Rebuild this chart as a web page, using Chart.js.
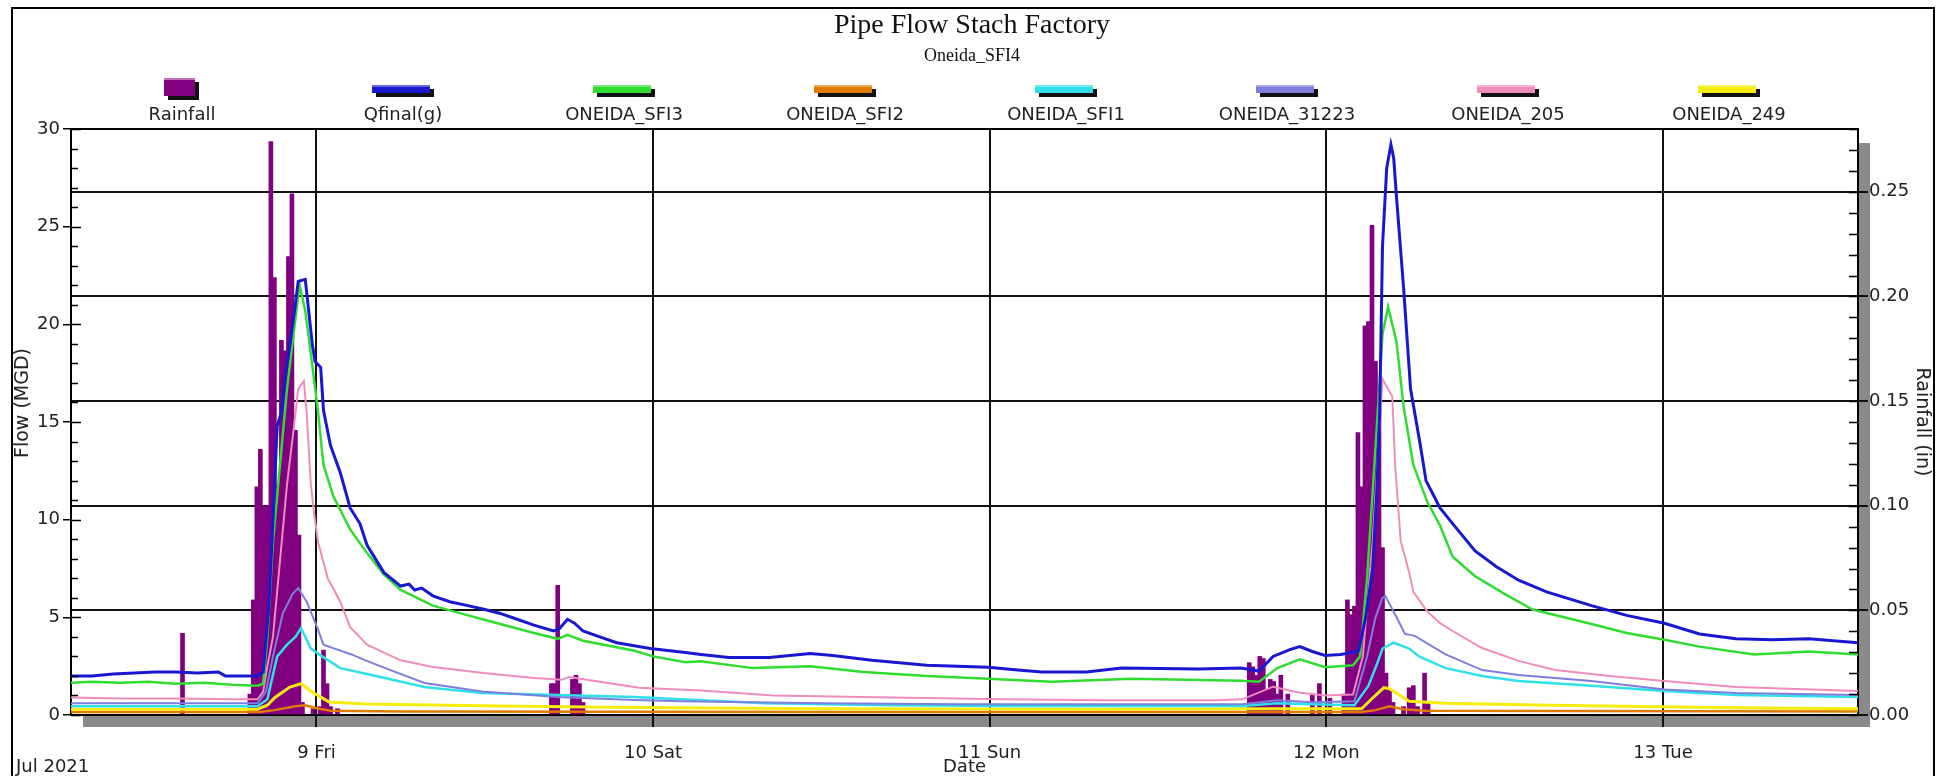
<!DOCTYPE html>
<html>
<head>
<meta charset="utf-8">
<title>Pipe Flow Stach Factory</title>
<script src="https://cdn.jsdelivr.net/npm/chart.js@4.4.1/dist/chart.umd.min.js"></script>
<style>
  html, body { margin: 0; padding: 0; background: #fff; }
  #wrap { width: 1946px; height: 776px; position: relative; }
</style>
</head>
<body>
<div id="wrap"><canvas id="chart"></canvas></div>
<script>
// ---- text ----
const TITLE = 'Pipe Flow Stach Factory';
const SUBTITLE = 'Oneida_SFI4';
const MONTH_LABEL = 'Jul 2021';
const X_TITLE = 'Date';
const Y_TITLE = 'Flow (MGD)';
const Y2_TITLE = 'Rainfall (in)';

// ---- time axis (hours counted from Jul 8 00:00) ----
const X_MIN = 6.5;
const X_MAX = 133.9;
const DAY_TICKS = [24, 48, 72, 96, 120];
const DAY_LABELS = ['9 Fri', '10 Sat', '11 Sun', '12 Mon', '13 Tue'];

// ---- rainfall (in) ----
const RAIN_HOURS = [14.45, 19.25, 19.5, 19.75, 20.0, 20.25, 20.5, 20.75, 21.0, 21.25, 21.5, 21.75, 22.0, 22.25, 22.5, 22.75, 23.0, 23.75, 24.25, 24.5, 24.75, 25.0, 25.5,
  40.75, 41.0, 41.2, 42.25, 42.5, 42.75, 43.0,
  90.5, 90.75, 91.0, 91.25, 91.5, 91.75, 92.0, 92.25, 92.5, 92.75, 93.25, 95.0, 95.5, 96.25,
  97.25, 97.5, 97.75, 98.0, 98.25, 98.5, 98.75, 99.0, 99.25, 99.5, 99.75, 100.0, 100.25, 100.5, 100.75, 101.5, 101.9, 102.2, 102.5, 103.0, 103.25];
const RAIN_IN = [0.039, 0.010, 0.055, 0.109, 0.127, 0.100, 0.100, 0.274, 0.209, 0.110, 0.179, 0.174, 0.219, 0.249, 0.136, 0.086, 0.006, 0.003, 0.004, 0.031, 0.015, 0.004, 0.003,
  0.015, 0.015, 0.062, 0.017, 0.019, 0.015, 0.006,
  0.025, 0.023, 0.019, 0.028, 0.027, 0.012, 0.017, 0.016, 0.010, 0.019, 0.010, 0.010, 0.015, 0.008,
  0.010, 0.055, 0.048, 0.052, 0.135, 0.109, 0.186, 0.188, 0.234, 0.169, 0.147, 0.080, 0.020, 0.012, 0.006, 0.004, 0.013, 0.014, 0.004, 0.020, 0.006];

// ---- Qfinal(g) (MGD) ----
const QFINAL_HOURS = [6.5, 8, 9.5, 11, 12.5, 14, 15.5, 17, 17.5, 19.8, 20.2, 20.6, 20.9, 21.2, 21.5, 21.8, 22.1, 22.4, 22.7, 23.2, 23.4, 23.7, 23.9, 24.3, 24.5, 25.0, 25.7, 26.4, 27.1, 27.6, 28.8, 30.0, 30.6, 31.0, 31.5, 32.3, 33.5, 34.8, 36.0, 37.1, 38.3, 39.5, 40.9, 41.3, 41.9, 42.4, 43.0, 44.2, 45.4, 47.8, 50.3, 51.4, 53.4, 56.3, 59.2, 60.8, 63.6, 67.5, 71.9, 74.0, 75.7, 78.9, 81.4, 86.9, 89.9, 91.2, 92.2, 93.4, 94.1, 95.0, 95.9, 97.0, 97.9, 98.3, 98.8, 99.3, 99.6, 99.8, 100.0, 100.3, 100.6, 100.8, 101.0, 101.5, 102.0, 102.7, 103.1, 103.6, 104.1, 105.0, 106.6, 108.1, 109.7, 111.7, 114.9, 117.4, 120.1, 122.6, 125.2, 127.8, 130.4, 133.9];
const QFINAL_MGD = [2.0, 2.0, 2.1, 2.15, 2.2, 2.2, 2.15, 2.2, 2.0, 2.0, 2.2, 5.5, 10.0, 14.8, 15.5, 17.5, 18.9, 20.5, 22.2, 22.3, 21.0, 19.0, 18.1, 17.8, 15.6, 13.8, 12.4, 10.6, 9.8, 8.7, 7.3, 6.6, 6.7, 6.4, 6.5, 6.1, 5.8, 5.6, 5.4, 5.2, 4.9, 4.6, 4.3, 4.4, 4.9, 4.7, 4.3, 4.0, 3.7, 3.4, 3.2, 3.1, 2.95, 2.95, 3.15, 3.05, 2.8, 2.55, 2.45, 2.3, 2.2, 2.2, 2.4, 2.35, 2.4, 2.25, 3.0, 3.35, 3.5, 3.25, 3.05, 3.1, 3.2, 3.3, 5.0, 7.5, 11.5, 15.5, 24.0, 28.0, 29.2, 28.5, 26.5, 21.9, 16.7, 13.8, 12.0, 11.3, 10.6, 9.8, 8.4, 7.6, 6.9, 6.3, 5.6, 5.1, 4.7, 4.15, 3.9, 3.85, 3.9, 3.7];

// ---- ONEIDA_SFI3 (MGD) ----
const SFI3_HOURS = [6.5, 8, 10, 12, 14, 16, 18, 19.8, 20.2, 20.5, 20.9, 21.4, 21.9, 22.4, 22.8, 23.2, 23.7, 24.1, 24.5, 25.2, 26.4, 27.6, 28.8, 30.0, 32.3, 34.8, 37.1, 39.5, 41.2, 41.9, 43.0, 46.6, 48.0, 50.3, 51.4, 55.1, 59.2, 63.0, 67.5, 71.9, 76.4, 82.1, 86.0, 89.9, 91.2, 92.5, 94.1, 95.9, 97.9, 98.4, 98.9, 99.6, 100.0, 100.4, 101.0, 101.5, 102.2, 103.2, 104.1, 105.0, 106.6, 108.7, 110.7, 114.9, 117.4, 120.1, 122.6, 126.5, 130.4, 133.9];
const SFI3_MGD = [1.65, 1.7, 1.65, 1.7, 1.6, 1.65, 1.55, 1.5, 1.6, 4.0, 8.9, 12.8, 16.7, 19.7, 22.0, 20.7, 17.9, 15.6, 12.8, 11.2, 9.5, 8.3, 7.2, 6.4, 5.6, 5.1, 4.66, 4.2, 3.9, 4.1, 3.8, 3.3, 3.0, 2.7, 2.75, 2.4, 2.5, 2.2, 2.0, 1.85, 1.7, 1.85, 1.8, 1.75, 1.7, 2.4, 2.85, 2.45, 2.55, 3.0, 7.0, 14.8, 19.5, 20.9, 19.1, 15.8, 12.8, 10.9, 9.7, 8.1, 7.1, 6.2, 5.4, 4.66, 4.2, 3.85, 3.5, 3.1, 3.25, 3.1];

// ---- ONEIDA_SFI2 (MGD) ----
const SFI2_HOURS = [6.5, 20.0, 21.0, 22.5, 23.2, 24.0, 25.0, 30.0, 60.0, 98.5, 99.5, 100.5, 101.5, 103.0, 133.9];
const SFI2_MGD = [0.15, 0.15, 0.25, 0.45, 0.5, 0.35, 0.22, 0.18, 0.15, 0.15, 0.25, 0.45, 0.3, 0.22, 0.18];

// ---- ONEIDA_SFI1 (MGD) ----
const SFI1_HOURS = [6.5, 19.8, 20.5, 21.2, 21.9, 22.5, 22.9, 23.6, 24.4, 25.7, 27.6, 31.7, 35.8, 41.2, 46.7, 50.0, 56.0, 65.0, 73.0, 90.0, 92.5, 95.0, 98.0, 99.0, 99.6, 100.0, 100.8, 101.9, 102.6, 104.5, 107.1, 109.7, 114.9, 120.1, 125.2, 133.9];
const SFI1_MGD = [0.45, 0.45, 0.8, 3.0, 3.6, 4.0, 4.45, 3.4, 3.0, 2.4, 2.1, 1.43, 1.13, 1.03, 0.92, 0.8, 0.6, 0.5, 0.46, 0.46, 0.6, 0.55, 0.5, 1.5, 2.6, 3.4, 3.7, 3.4, 3.0, 2.4, 2.0, 1.74, 1.5, 1.23, 1.03, 0.92];

// ---- ONEIDA_31223 (MGD) ----
const N31223_HOURS = [6.5, 19.8, 20.4, 20.9, 21.6, 22.3, 22.7, 23.3, 24.1, 24.5, 25.3, 26.5, 27.5, 28.9, 31.7, 35.8, 41.2, 46.7, 50.0, 60.0, 70.0, 80.0, 90.0, 92.5, 95.0, 98.0, 98.9, 99.5, 100.0, 100.2, 101.0, 101.6, 102.3, 104.5, 107.1, 109.7, 114.9, 120.1, 125.2, 133.9];
const N31223_MGD = [0.6, 0.6, 1.2, 3.0, 5.2, 6.2, 6.5, 5.8, 4.4, 3.6, 3.4, 3.1, 2.8, 2.4, 1.64, 1.2, 0.92, 0.77, 0.7, 0.6, 0.55, 0.55, 0.55, 0.75, 0.65, 0.7, 3.0, 5.0, 6.0, 6.1, 5.0, 4.15, 4.05, 3.1, 2.3, 2.05, 1.74, 1.3, 1.13, 1.03];

// ---- ONEIDA_205 (MGD) ----
const N205_HOURS = [6.5, 10, 14, 18, 19.8, 20.2, 20.5, 20.9, 21.4, 21.9, 22.4, 22.7, 23.1, 23.3, 23.6, 23.8, 24.1, 24.8, 25.7, 26.4, 27.6, 30.0, 32.3, 35.9, 39.5, 41.5, 42.0, 44.2, 47.0, 51.4, 56.6, 65.0, 73.0, 80.0, 88.0, 90.0, 92.2, 94.0, 95.9, 97.9, 98.6, 99.3, 99.8, 100.0, 100.7, 100.9, 101.3, 101.9, 102.2, 103.2, 104.1, 105.0, 107.1, 109.7, 112.3, 116.2, 120.1, 125.2, 133.9];
const N205_MGD = [0.9, 0.85, 0.85, 0.8, 0.8, 1.2, 2.5, 4.0, 7.9, 11.8, 14.8, 16.7, 17.1, 15.5, 11.8, 10.5, 8.9, 7.0, 5.8, 4.5, 3.6, 2.8, 2.46, 2.15, 1.9, 1.8, 1.95, 1.7, 1.4, 1.25, 1.0, 0.9, 0.8, 0.75, 0.75, 0.8, 1.45, 1.15, 1.0, 1.05, 3.0, 8.9, 14.8, 17.2, 16.3, 12.8, 8.9, 7.3, 6.3, 5.3, 4.7, 4.3, 3.43, 2.77, 2.3, 2.0, 1.74, 1.43, 1.23];

// ---- ONEIDA_249 (MGD) ----
const N249_HOURS = [6.5, 19.8, 20.5, 21.0, 22.1, 22.9, 23.8, 24.9, 27.6, 37.0, 46.7, 60.0, 80.0, 92.0, 98.5, 99.3, 100.1, 100.5, 101.9, 104.5, 112.0, 125.0, 133.9];
const N249_MGD = [0.3, 0.3, 0.5, 0.87, 1.43, 1.6, 1.13, 0.67, 0.56, 0.46, 0.38, 0.32, 0.3, 0.32, 0.32, 0.87, 1.4, 1.35, 0.7, 0.6, 0.5, 0.37, 0.32];

const pts = (hs, vs) => hs.map((h, i) => ({ x: h, y: vs[i] }));

const SANS = '"DejaVu Sans", sans-serif';
const SERIF = '"Liberation Serif", "DejaVu Serif", serif';

function lineSet(label, hs, vs, color, width, order) {
  return {
    type: 'line', label, data: pts(hs, vs), borderColor: color, backgroundColor: color,
    borderWidth: width, pointRadius: 0, tension: 0, yAxisID: 'y', order
  };
}

const datasets = [
  {
    type: 'bar', label: 'Rainfall', data: pts(RAIN_HOURS, RAIN_IN), yAxisID: 'y2',
    backgroundColor: '#800080', borderWidth: 0, barThickness: 4, order: 20
  },
  lineSet('Qfinal(g)', QFINAL_HOURS, QFINAL_MGD, '#1818d0', 3, 0),
  lineSet('ONEIDA_SFI3', SFI3_HOURS, SFI3_MGD, '#30dc30', 2.5, 1),
  lineSet('ONEIDA_SFI2', SFI2_HOURS, SFI2_MGD, '#e07a00', 2.5, 7),
  lineSet('ONEIDA_SFI1', SFI1_HOURS, SFI1_MGD, '#30e0e8', 2.5, 4),
  lineSet('ONEIDA_31223', N31223_HOURS, N31223_MGD, '#7e7ee0', 2, 3),
  lineSet('ONEIDA_205', N205_HOURS, N205_MGD, '#f08cbc', 2, 2),
  lineSet('ONEIDA_249', N249_HOURS, N249_MGD, '#f6ec10', 3, 6)
];

// Plot-frame decorations: 3D floor/wall shadow, inner tick marks, outer frame,
// titles, the boxed legend row, the left axis title and the month caption.
const decor = {
  id: 'decor',
  beforeDraw(chart) {
    const { ctx, chartArea: a, width, height } = chart;
    ctx.save();
    ctx.fillStyle = '#fff';
    ctx.fillRect(0, 0, width, height);
    ctx.fillStyle = '#8a8a8a';
    ctx.fillRect(a.left + 12, a.top + 14, a.right - a.left, a.bottom - a.top - 2);
    ctx.fillStyle = '#fff';
    ctx.fillRect(a.left, a.top, a.right - a.left, a.bottom - a.top);
    ctx.restore();
  },
  afterDraw(chart) {
    const { ctx, chartArea: a, scales: { y, y2 }, width } = chart;
    ctx.save();
    // plot top edge
    ctx.strokeStyle = '#000';
    ctx.lineWidth = 2;
    ctx.beginPath();
    ctx.moveTo(a.left, a.top); ctx.lineTo(a.right, a.top);
    ctx.stroke();
    // inner tick marks
    ctx.lineWidth = 1.5;
    ctx.beginPath();
    for (let v = 0; v <= 30; v++) {
      const py = Math.round(y.getPixelForValue(v)) + 0.5;
      ctx.moveTo(a.left, py); ctx.lineTo(a.left + (v % 5 === 0 ? 10 : 7), py);
    }
    for (let i = 0; i <= 28; i++) {
      const py = Math.round(y2.getPixelForValue(i / 100)) + 0.5;
      ctx.moveTo(a.right - 9, py); ctx.lineTo(a.right, py);
    }
    ctx.stroke();
    // outer frame
    ctx.lineWidth = 2;
    ctx.strokeRect(12, 8, width - 24, 800);
    // titles
    ctx.fillStyle = '#111';
    ctx.textAlign = 'center';
    ctx.textBaseline = 'middle';
    ctx.font = `28px ${SERIF}`;
    ctx.fillText(TITLE, 972, 26);
    ctx.font = `18px ${SERIF}`;
    ctx.fillText(SUBTITLE, 972, 56);
    // legend row
    chart.data.datasets.forEach((ds, i) => {
      const cx = 182 + i * 221;
      if (ds.type === 'bar') {
        ctx.fillStyle = '#111';
        ctx.fillRect(cx - 14, 82, 31, 18);
        ctx.fillStyle = ds.backgroundColor;
        ctx.fillRect(cx - 18, 78, 31, 18);
        ctx.fillStyle = '#c070c0';
        ctx.fillRect(cx - 18, 78, 31, 2);
      } else {
        ctx.fillStyle = '#111';
        ctx.fillRect(cx - 27, 89, 58, 8);
        ctx.fillStyle = ds.borderColor;
        ctx.fillRect(cx - 31, 85, 58, 8);
        ctx.fillStyle = 'rgba(255,255,255,0.35)';
        ctx.fillRect(cx - 31, 85, 58, 2);
      }
      ctx.fillStyle = '#222';
      ctx.font = `18px ${SANS}`;
      ctx.fillText(ds.label, cx, 115);
    });
    // left axis title
    ctx.save();
    ctx.translate(23, 403);
    ctx.rotate(-Math.PI / 2);
    ctx.font = `19px ${SANS}`;
    ctx.fillStyle = '#222';
    ctx.fillText(Y_TITLE, 0, 0);
    ctx.restore();
    // month caption
    ctx.textAlign = 'left';
    ctx.fillStyle = '#222';
    ctx.font = `18px ${SANS}`;
    ctx.fillText(MONTH_LABEL, 16, 767);
    ctx.restore();
  }
};

new Chart(document.getElementById('chart'), {
  type: 'line',
  data: { datasets },
  options: {
    responsive: true,
    maintainAspectRatio: false,
    animation: false,
    events: [],
    layout: { padding: { left: 0, right: 0, top: 129, bottom: 0 } },
    plugins: { legend: { display: false }, title: { display: false }, tooltip: { enabled: false } },
    scales: {
      x: {
        type: 'linear', min: X_MIN, max: X_MAX, offset: false,
        afterBuildTicks: (s) => { s.ticks = DAY_TICKS.map(v => ({ value: v })); },
        afterFit: (s) => { s.height = 61; },
        ticks: {
          autoSkip: false, maxRotation: 0, padding: 16, color: '#222',
          font: { family: SANS, size: 18 },
          callback: (v) => DAY_LABELS[DAY_TICKS.indexOf(v)]
        },
        grid: { offset: false, color: '#111', lineWidth: 2, tickLength: 12 },
        border: { display: true, color: '#000', width: 2 },
        title: { display: true, text: X_TITLE, color: '#222', font: { family: SANS, size: 18, lineHeight: 1 }, padding: { top: 0, bottom: 0 } }
      },
      y: {
        position: 'left', min: 0, max: 30,
        afterFit: (s) => { s.width = 71; },
        ticks: { stepSize: 5, padding: 3, color: '#222', font: { family: SANS, size: 18 } },
        grid: { drawOnChartArea: false, drawTicks: true, tickLength: 8, color: '#000', lineWidth: 1.5 },
        border: { display: true, color: '#000', width: 2 },
        title: { display: false }
      },
      y2: {
        position: 'right', min: 0, max: 0.28,
        afterFit: (s) => { s.width = 88; },
        ticks: {
          stepSize: 0.05, includeBounds: false, padding: 1, color: '#222',
          font: { family: SANS, size: 18 },
          callback: (v) => v.toFixed(2)
        },
        grid: { drawOnChartArea: true, color: '#111', lineWidth: 2, tickLength: 10 },
        border: { display: true, color: '#000', width: 2 },
        title: { display: true, text: Y2_TITLE, color: '#222', font: { family: SANS, size: 19 }, padding: { top: 13, bottom: 0 } }
      }
    }
  },
  plugins: [decor]
});
</script>
</body>
</html>
